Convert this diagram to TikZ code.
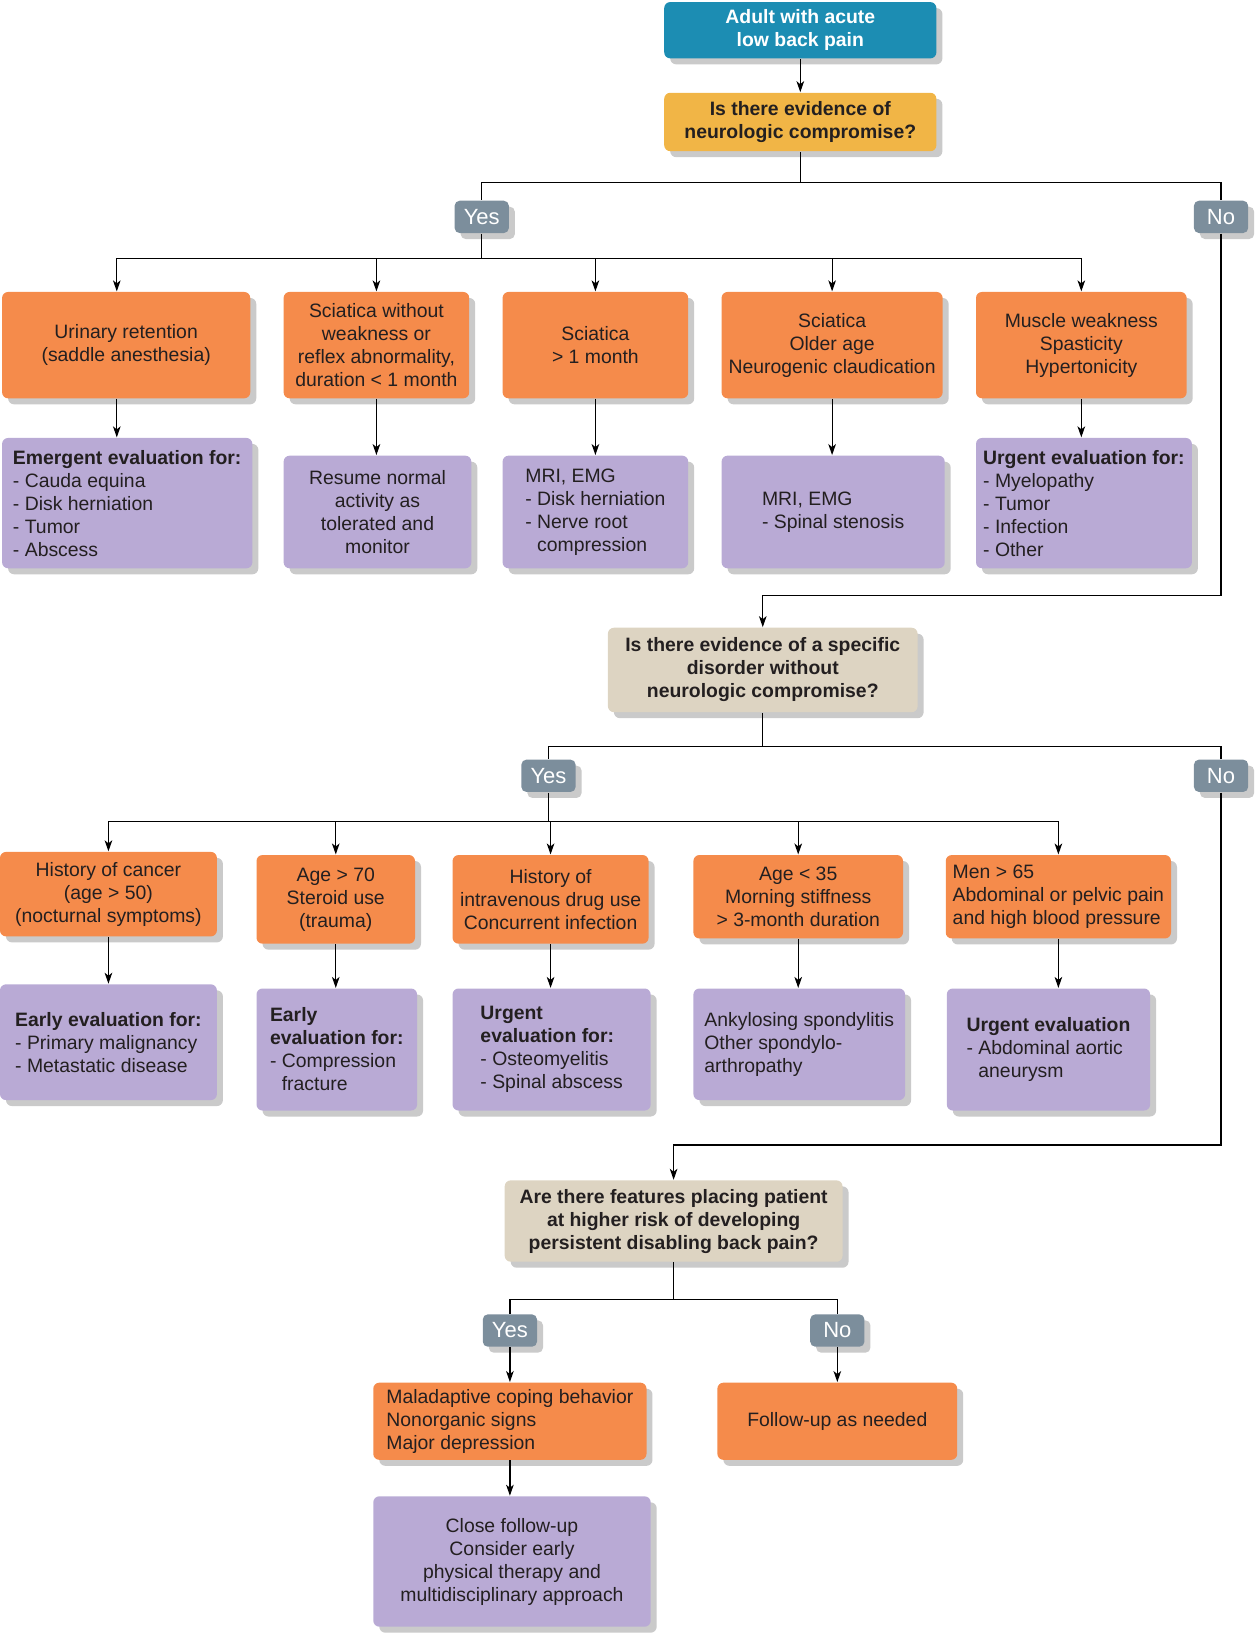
\documentclass[tikz,border=0pt]{standalone}
\usepackage{fontspec}
\setmainfont{Liberation Sans}
\usetikzlibrary{shadows,arrows.meta}

\newcommand{\px}{0.52156pt}
\newcommand{\boxfont}{\fontsize{9.7}{11.5}\selectfont}

\definecolor{boxblue}{HTML}{1C8DB3}
\definecolor{boxgold}{HTML}{F1B546}
\definecolor{boxorange}{HTML}{F58B4B}
\definecolor{boxpurple}{HTML}{B9AAD5}
\definecolor{boxbeige}{HTML}{DDD4C2}
\definecolor{boxgrey}{HTML}{7C8E9C}
\definecolor{textdark}{HTML}{231F20}

\begin{document}
\begin{tikzpicture}[
    x=\px, y=-\px,
    >={Stealth[length=5.5pt, width=3.8pt, inset=1.5pt]},
    line width=0.6pt,
    font=\boxfont,
    box/.style={rounded corners=3pt, inner sep=2pt, text=textdark,
      drop shadow={shadow xshift=3pt, shadow yshift=-3pt, opacity=0.35, fill=black!60}},
    sz/.style 2 args={minimum width=#1*\px, minimum height=#2*\px},
    start/.style={box, fill=boxblue, text=white, font=\boxfont\bfseries, align=center},
    question/.style={box, fill=boxgold, font=\boxfont\bfseries, align=center},
    check/.style={box, fill=boxbeige, font=\boxfont\bfseries, align=center},
    finding/.style={box, fill=boxorange, align=center},
    action/.style={box, fill=boxpurple, align=center},
    actionl/.style={action, align=left},
    answer/.style={box, fill=boxgrey, text=white, font=\fontsize{11}{13}\selectfont,
      rounded corners=2.5pt, sz={52}{31}}
]
  \useasboundingbox (0,0) rectangle (1206,1568);

  % first question
  \node[start, sz={261}{54}] (start) at (767.5,29) {Adult with acute\\low back pain};
  \node[question, sz={261}{56}] (neuro) at (767.5,117) {Is there evidence of\\neurologic compromise?};
  \node[answer] (yesA) at (462,208) {Yes};
  \node[answer] (noA) at (1171,208) {No};

  \node[finding, sz={238}{102}] (retention) at (121,331) {Urinary retention\\(saddle anesthesia)};
  \node[finding, sz={178}{102}] (sciatica) at (361,331) {Sciatica without\\weakness or\\reflex abnormality,\\duration < 1 month};
  \node[finding, sz={178}{102}] (sciaticalong) at (571,331) {Sciatica\\> 1 month};
  \node[finding, sz={212}{102}] (stenosis) at (798,331) {Sciatica\\Older age\\Neurogenic claudication};
  \node[finding, sz={202}{102}] (weakness) at (1037,331) {Muscle weakness\\Spasticity\\Hypertonicity};

  \node[actionl, sz={240}{125}] (emergent) at (122,482.5) {\textbf{Emergent evaluation for:}\\- Cauda equina\\- Disk herniation\\- Tumor\\- Abscess};
  \node[action, sz={180}{108}] (resume) at (362,491) {Resume normal\\activity as\\tolerated and\\monitor};
  \node[actionl, sz={178}{108}] (mri) at (571,491) {MRI, EMG\\- Disk herniation\\- Nerve root\\\phantom{- }compression};
  \node[actionl, sz={214}{108}] (mristen) at (799,491) {MRI, EMG\\- Spinal stenosis};
  \node[actionl, sz={207}{125}] (urgent) at (1039.5,482.5) {\textbf{Urgent evaluation for:}\\- Myelopathy\\- Tumor\\- Infection\\- Other};

  % second question
  \node[check, sz={297}{81}] (specific) at (731.5,642.5) {Is there evidence of a specific\\disorder without\\neurologic compromise?};
  \node[answer] (yesB) at (526,744) {Yes};
  \node[answer] (noB) at (1171,744) {No};

  \node[finding, sz={208}{81}] (cancer) at (104,857.5) {History of cancer\\(age > 50)\\(nocturnal symptoms)};
  \node[finding, sz={152}{85}] (steroid) at (322,862.5) {Age > 70\\Steroid use\\(trauma)};
  \node[finding, sz={188}{85}] (drug) at (528,862.5) {History of\\intravenous drug use\\Concurrent infection};
  \node[finding, sz={201}{80}] (young) at (765.5,860) {Age < 35\\Morning stiffness\\> 3-month duration};
  \node[finding, align=left, sz={216}{80}] (aorta) at (1015,860) {Men > 65\\Abdominal or pelvic pain\\and high blood pressure};

  \node[actionl, sz={208}{111}] (early) at (104,999.5) {\textbf{Early evaluation for:}\\- Primary malignancy\\- Metastatic disease};
  \node[actionl, sz={154}{117}] (earlyfx) at (323,1006.5) {\textbf{Early}\\\textbf{evaluation for:}\\- Compression\\\phantom{- }fracture};
  \node[actionl, sz={190}{117}] (urgentinf) at (529,1006.5) {\textbf{Urgent}\\\textbf{evaluation for:}\\- Osteomyelitis\\- Spinal abscess};
  \node[actionl, sz={203}{107}] (spondy) at (766.5,1001.5) {Ankylosing spondylitis\\Other spondylo-\\arthropathy};
  \node[actionl, sz={195}{117}] (aneurysm) at (1005.5,1006.5) {\textbf{Urgent evaluation}\\- Abdominal aortic\\\phantom{- }aneurysm};

  % third question
  \node[check, sz={324}{78}] (risk) at (646,1171) {Are there features placing patient\\at higher risk of developing\\persistent disabling back pain?};
  \node[answer] (yesC) at (489,1276) {Yes};
  \node[answer] (noC) at (803,1276) {No};

  \node[finding, align=left, sz={262}{74}] (coping) at (489,1363) {Maladaptive coping behavior\\Nonorganic signs\\Major depression};
  \node[finding, sz={230}{74}] (followup) at (803,1363) {Follow-up as needed};
  \node[action, sz={266}{125}] (close) at (491,1497.5) {Close follow-up\\Consider early\\physical therapy and\\multidisciplinary approach};

  % junctions
  \coordinate (splitA) at (767.5,175);
  \coordinate (busA) at (462,248);
  \coordinate (colA) at (112,0);
  \coordinate (turnA) at (731.5,571);
  \coordinate (splitB) at (731.5,716);
  \coordinate (busB) at (526,788);
  \coordinate (turnB) at (646,1098);
  \coordinate (splitC) at (646,1246);

  % edges
  \draw[->] (start) -- (neuro);
  \draw (neuro) -- (splitA) -| (yesA);
  \draw (splitA) -| (noA);
  \draw (yesA) -- (busA);
  \draw[->] (busA) -| (colA |- retention.north);
  \foreach \n in {sciatica, sciaticalong, stenosis, weakness}
    \draw[->] (busA) -| (\n);
  \draw[->] (colA |- retention.south) -- (colA |- emergent.north);
  \foreach \a/\b in {sciatica/resume, sciaticalong/mri, stenosis/mristen, weakness/urgent}
    \draw[->] (\a.south) -- (\a.south |- \b.north);

  \draw[->] (noA) |- (turnA) -- (specific);
  \draw (specific) -- (splitB) -| (yesB);
  \draw (splitB) -| (noB);
  \draw (yesB) -- (busB);
  \foreach \n in {cancer, steroid, drug, young, aorta}
    \draw[->] (busB) -| (\n);
  \foreach \a/\b in {cancer/early, steroid/earlyfx, drug/urgentinf, young/spondy, aorta/aneurysm}
    \draw[->] (\a.south) -- (\a.south |- \b.north);

  \draw[->] (noB) |- (turnB) -- (risk);
  \draw (risk) -- (splitC) -| (yesC);
  \draw (splitC) -| (noC);
  \draw[->] (yesC) -- (coping);
  \draw[->] (noC) -- (followup);
  \draw[->] (coping.south) -- (coping.south |- close.north);
\end{tikzpicture}
\end{document}
